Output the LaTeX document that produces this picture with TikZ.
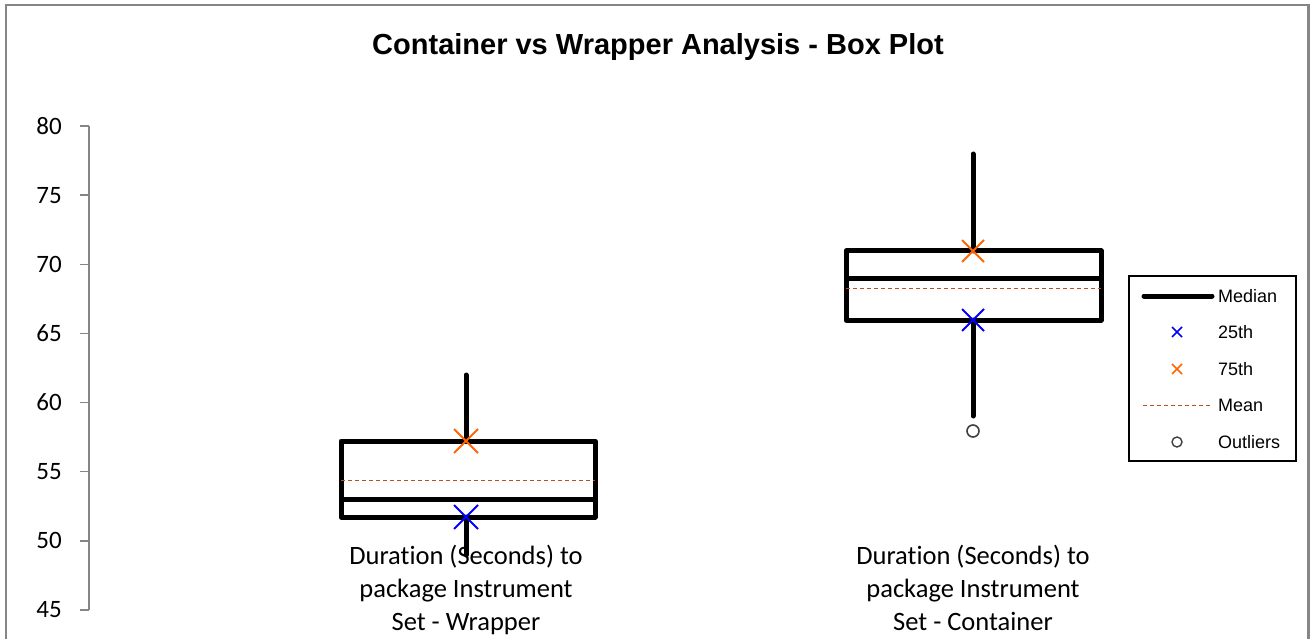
\documentclass[tikz,border=0pt]{standalone}
\usepackage{fontspec}
\setmainfont[Ligatures=NoCommon]{Carlito}
\newfontfamily\arialfont{Liberation Sans}
\definecolor{framegray}{RGB}{134,134,134}
\definecolor{axisgray}{RGB}{134,134,134}
\definecolor{meancol}{RGB}{185,80,35}
\definecolor{q1col}{RGB}{0,0,255}
\definecolor{q3col}{RGB}{255,102,0}
\definecolor{outcol}{RGB}{64,64,64}
\tikzset{
  boxline/.style={line width=5pt, draw=black, line join=round, line cap=round},
  whisk/.style={line width=5pt, draw=black, line cap=round},
  meanline/.style={line width=1pt, draw=meancol, dash pattern=on 4pt off 3pt},
  crossq/.style={line width=2pt},
  ticklbl/.style={anchor=east, font=\fontsize{25}{28}\selectfont, inner sep=0pt},
  catlbl/.style={align=center, font=\fontsize{26.5}{33}\selectfont, inner sep=0pt},
  leglbl/.style={anchor=west, font=\arialfont\fontsize{18}{20}\selectfont, inner sep=0pt},
}
\begin{document}
\begin{tikzpicture}[x=1pt,y=-1pt]
\useasboundingbox (0,0) rectangle (1312,639);
\fill[white] (0,0) rectangle (1312,639);
% outer frame (open at bottom)
\draw[framegray, line width=2.5pt] (6,645) -- (6,5) -- (1308.5,5) -- (1308.5,645);
% title
\node[font=\arialfont\bfseries\fontsize{29}{32}\selectfont] (title) at (658,47) {Container vs Wrapper Analysis - Box Plot};
% y axis
\coordinate (ax0) at (89,126);
\coordinate (ax1) at (89,610);
\draw[axisgray, line width=1.5pt] (ax0) -- (ax1);
\foreach \v [count=\i from 0] in {80,75,70,65,60,55,50,45} {
  \pgfmathsetmacro{\yy}{126+\i*69.14}
  \coordinate (t\i) at (80,\yy);
  \draw[axisgray, line width=1.5pt] (t\i) -- (89,\yy);
  \node[ticklbl] (l\i) at (62,\yy) {\v};
}
% ---- Wrapper box ----
\coordinate (wTop) at (466,375);
\coordinate (wQ3) at (466,441);
\coordinate (wQ1) at (466,517);
\coordinate (wBot) at (466,555);
\draw[whisk] (wTop) -- (wQ3);
\draw[whisk] (wQ1) -- (wBot);
\draw[boxline] (341,441) rectangle (595,517);
\draw[line width=5pt] (341,499.5) -- (595,499.5);
\draw[meanline] (341,480.5) -- (595,480.5);
\draw[q3col, crossq] (454,429) -- (478,453) (454,453) -- (478,429);
\draw[q1col, crossq] (454,505) -- (478,529) (454,529) -- (478,505);
% ---- Container box ----
\coordinate (cTop) at (973,154);
\coordinate (cQ3) at (973,251);
\coordinate (cQ1) at (973,320);
\coordinate (cBot) at (973,416);
\draw[whisk] (cTop) -- (cQ3);
\draw[whisk] (cQ1) -- (cBot);
\draw[boxline] (846,251) rectangle (1101,320);
\draw[line width=5pt] (846,278.5) -- (1101,278.5);
\draw[meanline] (846,288) -- (1101,288);
\draw[q3col, crossq] (962,240) -- (984,262) (962,262) -- (984,240);
\draw[q1col, crossq] (962,309) -- (984,331) (962,331) -- (984,309);
\node[draw=outcol, line width=1.6pt, circle, minimum size=12pt, inner sep=0pt] (cOut) at (973,431) {};
% category labels
\node[catlbl] (catW) at (466,590) {Duration (Seconds) to\\package Instrument\\Set - Wrapper};
\node[catlbl] (catC) at (973,590) {Duration (Seconds) to\\package Instrument\\Set - Container\vphantom{p}};
% legend
\node[draw=black, line width=2pt, minimum width=167pt, minimum height=185pt, inner sep=0pt] (legend) at (1212.5,368.5) {};
\draw[line width=5pt, line cap=round] (1144,296) -- (1212,296);
\node[leglbl] (legMed) at (1218,296) {Median};
\draw[q1col, line width=1.5pt] (1172,327) -- (1182,337) (1172,337) -- (1182,327);
\node[leglbl] (leg25) at (1218,332) {25th};
\draw[q3col, line width=1.5pt] (1172,364) -- (1182,374) (1172,374) -- (1182,364);
\node[leglbl] (leg75) at (1218,369) {75th};
\draw[meanline] (1143,405) -- (1211,405);
\node[leglbl] (legMean) at (1218,405) {Mean};
\node[draw=outcol, line width=1.4pt, circle, minimum size=10pt, inner sep=0pt] (legOut) at (1177,442) {};
\node[leglbl] (legOutl) at (1218,442) {Outliers};
\end{tikzpicture}
\end{document}
